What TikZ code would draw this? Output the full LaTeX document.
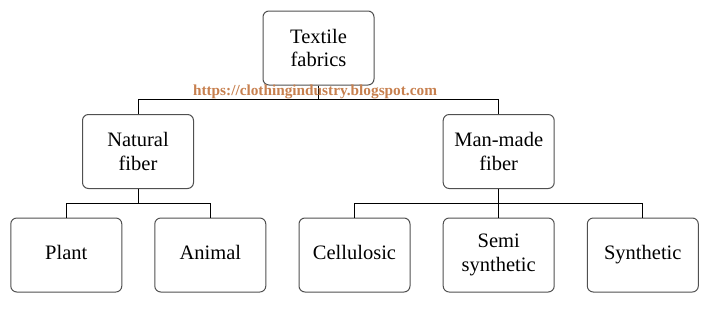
\documentclass[tikz,border=0pt]{standalone}
\usepackage{fontspec}
\setmainfont{Liberation Serif}
\definecolor{urlc}{HTML}{C7804F}
\definecolor{boxc}{HTML}{505050}
\begin{document}
\begin{tikzpicture}[x=1pt,y=1pt,
  box/.style={draw=boxc, line width=1pt, rounded corners=6pt, minimum width=111pt, minimum height=74pt, align=center, inner sep=0pt, font=\fontsize{20.5}{23.5}\selectfont},
  conn/.style={draw=black, line width=1pt}]
\useasboundingbox (0,0) rectangle (706,309);
\node[box] (top) at (318.5,261) {Textile\\fabrics};
\node[box] (nat) at (138,157.5) {Natural\\fiber};
\node[box] (man) at (498.7,157.5) {Man-made\\fiber};
\node[box] (plant) at (66.3,54) {\strut Plant};
\node[box] (animal) at (210.3,54) {\strut Animal};
\node[box] (cell) at (354.5,54) {\strut Cellulosic};
\node[box] (semi) at (498.7,54) {Semi\\synthetic};
\node[box] (syn) at (642.8,54) {\strut Synthetic};
\coordinate (j1) at (318.5,209.5);
\coordinate (j2) at (138,105.7);
\coordinate (j3) at (498.7,105.7);
\draw[conn] (top.south) -- (j1);
\draw[conn] (nat.north) |- (j1) -| (man.north);
\draw[conn] (nat.south) -- (j2);
\draw[conn] (plant.north) |- (j2) -| (animal.north);
\draw[conn] (man.south) -- (semi.north);
\draw[conn] (cell.north) |- (j3) -| (syn.north);
\node[text=urlc, font=\bfseries\fontsize{15.3}{17}\selectfont, inner sep=0pt] (url) at (315,217.5) {https://clothingindustry.blogspot.com};
\end{tikzpicture}
\end{document}
